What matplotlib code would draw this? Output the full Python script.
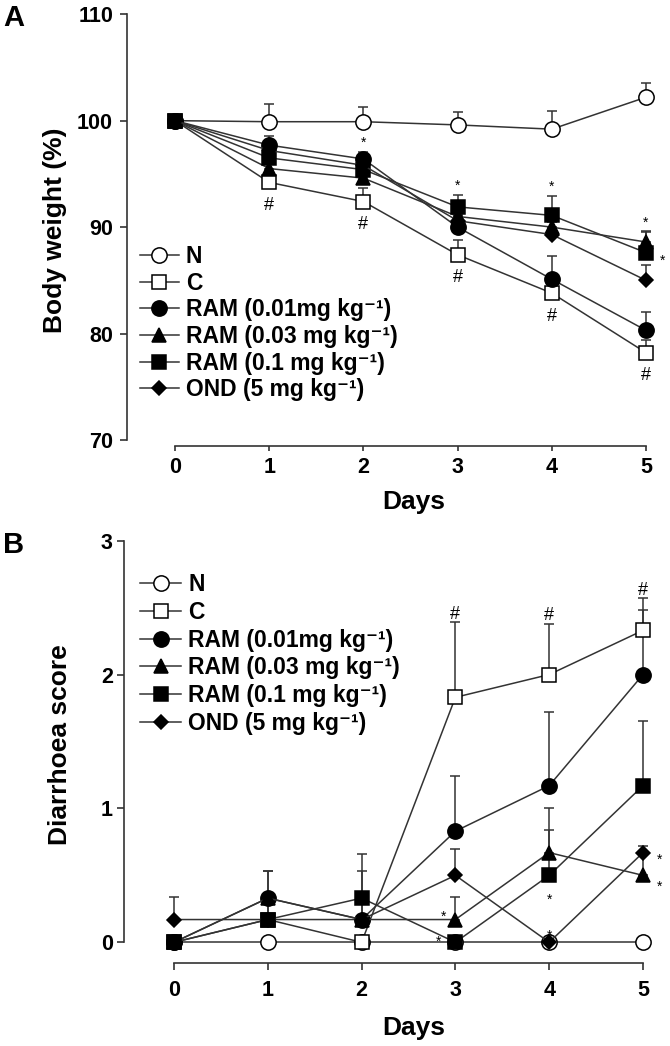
import numpy as np
import matplotlib.pyplot as plt

plt.rcParams['font.family'] = ['Liberation Sans', 'DejaVu Sans']
plt.rcParams['font.weight'] = 'bold'
plt.rcParams['axes.labelweight'] = 'bold'

# ---- data ----
days = [0, 1, 2, 3, 4, 5]
group_labels = ['N', 'C',
                'RAM (0.01mg kg\u207b\u00b9)',
                'RAM (0.03 mg kg\u207b\u00b9)',
                'RAM (0.1 mg kg\u207b\u00b9)',
                'OND (5 mg kg\u207b\u00b9)']

# body weight (%)
bw_N = [100, 99.9, 99.9, 99.6, 99.2, 102.2]
bw_C = [100, 94.2, 92.4, 87.4, 83.8, 78.2]
bw_ram001 = [100, 97.7, 96.4, 90.0, 85.1, 80.3]
bw_ram003 = [100, 95.5, 94.6, 91.0, 90.0, 88.6]
bw_ram01 = [100, 96.5, 95.4, 91.9, 91.1, 87.6]
bw_ond = [100, 97.2, 95.8, 90.6, 89.3, 85.0]

bw_N_err = [0, 1.7, 1.4, 1.2, 1.7, 1.3]
bw_C_err = [0, 0.8, 1.3, 1.4, 1.0, 1.2]
bw_ram001_err = [0, 0.9, 0.7, 1.0, 2.2, 1.7]
bw_ram003_err = [0, 0.6, 0.5, 0.5, 0.5, 1.0]
bw_ram01_err = [0, 0.6, 0.6, 1.1, 1.8, 1.9]
bw_ond_err = [0, 0.5, 0.5, 0.6, 0.6, 1.4]

# diarrhoea score
ds_N = [0, 0, 0, 0, 0, 0]
ds_C = [0, 0.17, 0, 1.83, 2.0, 2.33]
ds_ram001 = [0, 0.33, 0.17, 0.83, 1.17, 2.0]
ds_ram003 = [0, 0.33, 0.17, 0.17, 0.67, 0.5]
ds_ram01 = [0, 0.17, 0.33, 0, 0.5, 1.17]
ds_ond = [0.17, 0.17, 0.17, 0.5, 0, 0.67]

ds_N_err = [0, 0, 0, 0, 0, 0]
ds_C_err = [0, 0.17, 0, 0.56, 0.38, 0.15]
ds_ram001_err = [0, 0.2, 0.36, 0.41, 0.55, 0.57]
ds_ram003_err = [0, 0.2, 0.17, 0.17, 0.33, 0.22]
ds_ram01_err = [0, 0.17, 0.33, 0, 0.34, 0.48]
ds_ond_err = [0.17, 0, 0, 0.2, 0, 0]

# significance marks: '#' vs N for C, '*' vs C
bw_hash_days = [1, 2, 3, 4, 5]
bw_star_days = [2, 3, 4, 5]
ds_hash_days = [3, 4, 5]

# ---- style ----
W, H = 670, 1046
LINE = '#333333'
markers = ['o', 's', 'o', '^', 's', 'D']
faces = ['white', 'white', 'black', 'black', 'black', 'black']
msizes = [11, 10.5, 11, 10, 10.5, 7.2]

fig = plt.figure(figsize=(W / 100, H / 100), dpi=100)


def add_panel(left, top, right, bottom, x0px, x5px):
    ax = fig.add_axes([left / W, 1 - bottom / H, (right - left) / W, (bottom - top) / H])
    ppd = (x5px - x0px) / 5
    ax.set_xlim(-(x0px - left) / ppd, 5 + (right - x5px) / ppd)
    for s in ['top', 'right']:
        ax.spines[s].set_visible(False)
    for s in ['left', 'bottom']:
        ax.spines[s].set_color(LINE)
        ax.spines[s].set_linewidth(1.2)
    ax.set_xticks(days)
    return ax


def draw_groups(ax, values, errors):
    # error bars (upper only) behind everything
    for v, e in zip(values, errors):
        idx = [i for i in range(len(days)) if e[i] > 0]
        ax.errorbar([days[i] for i in idx], [v[i] for i in idx],
                    yerr=[[0] * len(idx), [e[i] for i in idx]],
                    fmt='none', ecolor=LINE, elinewidth=1.1, capsize=3.5,
                    capthick=1.1, zorder=1, clip_on=False)
    lines = []
    for k, v in enumerate(values):
        ln, = ax.plot(days, v, color=LINE, lw=1.1, marker=markers[k],
                      markersize=msizes[k], markerfacecolor=faces[k],
                      markeredgecolor='black', markeredgewidth=1.1,
                      zorder=3 + k, clip_on=False, label=group_labels[k])
        lines.append(ln)
    return lines


def star(ax, x, y, dx, dy):
    # dx, dy in px, centre of the asterisk; glyph centre sits ~8 px above baseline
    ax.annotate('*', (x, y), xytext=(dx * 0.72, (dy - 8) * 0.72),
                textcoords='offset points', ha='center', va='baseline',
                fontsize=10, fontweight='normal', color='black', zorder=20)


def hash_mark(ax, x, y, dy):
    ax.annotate('#', (x, y), xytext=(0, (dy - 6.5) * 0.72),
                textcoords='offset points', ha='center', va='baseline',
                fontsize=13, fontweight='normal', color='black', zorder=20)


# ================= Panel A =================
axA = add_panel(127, 14.2, 665, 440, 175, 646)
axA.set_ylim(70, 110)
axA.set_yticks([70, 80, 90, 100, 110])
axA.spines['left'].set_bounds(70, 110)
axA.spines['bottom'].set_bounds(0, 5)
axA.spines['bottom'].set_position(('outward', 4))
axA.tick_params(axis='y', direction='out', length=5, width=1.2, color=LINE,
                pad=5, labelsize=15.5)
axA.tick_params(axis='x', direction='out', length=3.5, width=1.2, color=LINE,
                pad=5, labelsize=15.5)

bw_vals = [bw_N, bw_C, bw_ram001, bw_ram003, bw_ram01, bw_ond]
bw_errs = [bw_N_err, bw_C_err, bw_ram001_err, bw_ram003_err, bw_ram01_err, bw_ond_err]
linesA = draw_groups(axA, bw_vals, bw_errs)

for d in bw_hash_days:
    hash_mark(axA, d, bw_C[d], -21)
for d in bw_star_days:
    top = max(v[d] + e[d] for v, e in zip(bw_vals[2:], bw_errs[2:]))
    star(axA, d, top, 0, 13)
star(axA, 5, bw_ram01[5], 17, -4)

axA.set_xlabel('Days', fontsize=19, fontweight='bold')
axA.xaxis.set_label_coords((414 - 127) / (665 - 127), -(502 - 440) / (440 - 14.2))
axA.xaxis.label.set_va('center')
axA.set_ylabel('Body weight (%)', fontsize=19, fontweight='bold')
axA.yaxis.set_label_coords(-(127 - 55) / (665 - 127), (440 - 230) / (440 - 14.2))
axA.yaxis.label.set_va('center')

fig.legend(handles=linesA, loc='upper left', bbox_to_anchor=(140 / W, 1 - 245 / H),
           frameon=False, borderpad=0, borderaxespad=0, handlelength=1.7,
           handletextpad=0.3, labelspacing=0.16, prop={'weight': 'bold', 'size': 16.5})

# ================= Panel B =================
axB = add_panel(124, 540.7, 665, 942.3, 174, 643)
axB.set_ylim(0, 3)
axB.set_yticks([0, 1, 2, 3])
axB.spines['left'].set_bounds(0, 3)
axB.spines['bottom'].set_bounds(0, 5)
axB.spines['bottom'].set_position(('outward', 15))
axB.tick_params(axis='y', direction='out', length=5, width=1.2, color=LINE,
                pad=3, labelsize=15.5)
axB.tick_params(axis='x', direction='out', length=5, width=1.2, color=LINE,
                pad=7, labelsize=15.5)

ds_vals = [ds_N, ds_C, ds_ram001, ds_ram003, ds_ram01, ds_ond]
ds_errs = [ds_N_err, ds_C_err, ds_ram001_err, ds_ram003_err, ds_ram01_err, ds_ond_err]
linesB = draw_groups(axB, ds_vals, ds_errs)

for d in ds_hash_days:
    top = max(v[d] + e[d] for v, e in zip(ds_vals, ds_errs))
    hash_mark(axB, d, top, 10)
star(axB, 3, ds_ram003[3], -12, 6.5)
star(axB, 3, ds_ram01[3], -17, 5)
star(axB, 4, ds_ram01[4], 0, -20)
star(axB, 4, ds_ond[4], 0, 11)
star(axB, 5, ds_ond[5], 17, -3.5)
star(axB, 5, ds_ram003[5], 17, -7)

axB.set_xlabel('Days', fontsize=19, fontweight='bold')
axB.xaxis.set_label_coords((414 - 124) / (665 - 124), -(1028 - 942.3) / (942.3 - 540.7))
axB.xaxis.label.set_va('center')
axB.set_ylabel('Diarrhoea score', fontsize=19, fontweight='bold')
axB.yaxis.set_label_coords(-(124 - 60) / (665 - 124), (942.3 - 745) / (942.3 - 540.7))
axB.yaxis.label.set_va('center')

fig.legend(handles=linesB, loc='upper left', bbox_to_anchor=(140 / W, 1 - 573 / H),
           frameon=False, borderpad=0, borderaxespad=0, handlelength=1.8,
           handletextpad=0.3, labelspacing=0.21, prop={'weight': 'bold', 'size': 16.5})

# panel letters
fig.text(3 / W, 1 - 4 / H, 'A', fontsize=21, fontweight='bold', ha='left', va='top')
fig.text(3 / W, 1 - 531 / H, 'B', fontsize=21, fontweight='bold', ha='left', va='top')

fig.savefig('out.png', dpi=100)
